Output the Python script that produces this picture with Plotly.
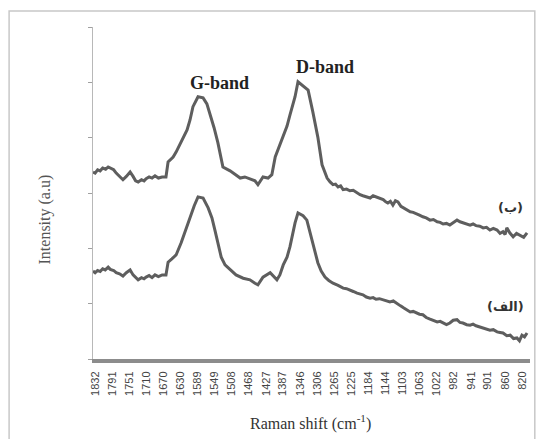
import plotly.graph_objects as go

# Raman shift (cm-1) and intensity (a.u.)
shift_b = [1837, 1832, 1826, 1820, 1814, 1807, 1801, 1794, 1788, 1782, 1774, 1766, 1758,
           1749, 1742, 1736, 1730, 1722, 1716, 1711, 1704, 1697, 1690, 1682, 1673, 1664,
           1659, 1647, 1640, 1626, 1614, 1607, 1600, 1588, 1576, 1567, 1560, 1550, 1541,
           1533, 1529, 1512, 1500, 1488, 1477, 1465, 1453, 1446, 1434, 1422, 1413, 1405,
           1396, 1386, 1377, 1370, 1358, 1351, 1339, 1327, 1316, 1304, 1294,
           1282, 1275, 1268, 1262, 1256, 1250, 1244, 1236, 1228, 1220, 1211, 1204, 1197,
           1189, 1180, 1173, 1166, 1158, 1149, 1143, 1138, 1132, 1126, 1120, 1114, 1107,
           1100, 1093, 1085, 1078, 1071, 1063, 1055, 1047, 1038, 1030, 1021, 1014, 1007,
           999, 991, 983, 974, 967, 960, 951, 943, 936, 929, 920, 912, 904, 896, 888, 879,
           872, 865, 860, 856, 849, 841, 833, 825, 816, 808]
inten_b = [3.38, 3.36, 3.42, 3.40, 3.45, 3.43, 3.47, 3.45, 3.42, 3.36, 3.30, 3.24, 3.30,
           3.38, 3.30, 3.22, 3.20, 3.24, 3.22, 3.26, 3.29, 3.27, 3.31, 3.27, 3.29, 3.29,
           3.56, 3.65, 3.74, 3.96, 4.14, 4.32, 4.56, 4.74, 4.72, 4.61, 4.45, 4.18, 3.91,
           3.65, 3.47, 3.40, 3.33, 3.27, 3.29, 3.25, 3.22, 3.15, 3.29, 3.27, 3.33, 3.65,
           3.83, 4.03, 4.21, 4.41, 4.74, 5.01, 4.94, 4.86, 4.47, 4.01, 3.51,
           3.27, 3.20, 3.15, 3.16, 3.11, 3.13, 3.06, 3.07, 3.04, 3.05, 3.00, 2.97, 2.95,
           2.93, 2.91, 2.95, 2.93, 2.90, 2.88, 2.84, 2.82, 2.85, 2.78, 2.86, 2.84, 2.76,
           2.73, 2.70, 2.66, 2.65, 2.62, 2.60, 2.57, 2.55, 2.51, 2.52, 2.48, 2.47, 2.44,
           2.45, 2.42, 2.47, 2.51, 2.48, 2.46, 2.43, 2.42, 2.44, 2.41, 2.40, 2.37, 2.38,
           2.33, 2.36, 2.33, 2.27, 2.30, 2.25, 2.37, 2.28, 2.21, 2.27, 2.24, 2.20, 2.28]

shift_a = [1837, 1832, 1826, 1820, 1814, 1808, 1801, 1796, 1788, 1782, 1774, 1766, 1758,
           1749, 1742, 1737, 1730, 1722, 1716, 1711, 1704, 1697, 1690, 1682, 1673, 1664,
           1659, 1650, 1640, 1628, 1616, 1607, 1597, 1588, 1576, 1564, 1555, 1548, 1541,
           1533, 1524, 1517, 1507, 1498, 1481, 1465, 1453, 1446, 1434, 1417, 1401, 1394,
           1386, 1377, 1370, 1363, 1358, 1351, 1339, 1330, 1318, 1311, 1304, 1296,
           1287, 1278, 1268, 1256, 1244, 1236, 1228, 1220, 1211, 1204, 1197, 1189, 1180,
           1173, 1166, 1158, 1149, 1141, 1133, 1125, 1116, 1108, 1100, 1092, 1085, 1078,
           1071, 1063, 1055, 1047, 1038, 1030, 1021, 1014, 1007, 999, 991, 983, 974, 967,
           960, 951, 943, 936, 929, 920, 912, 904, 896, 888, 879, 872, 865, 856, 848, 840,
           832, 826, 820, 814, 808]
inten_a = [1.59, 1.56, 1.60, 1.58, 1.63, 1.61, 1.66, 1.62, 1.60, 1.56, 1.54, 1.50, 1.56,
           1.61, 1.52, 1.48, 1.43, 1.47, 1.45, 1.48, 1.51, 1.47, 1.52, 1.49, 1.52, 1.52,
           1.75, 1.81, 1.88, 2.10, 2.37, 2.55, 2.77, 2.93, 2.91, 2.73, 2.55, 2.33, 2.10,
           1.84, 1.70, 1.65, 1.57, 1.52, 1.46, 1.43, 1.37, 1.34, 1.48, 1.56, 1.43, 1.52,
           1.70, 1.84, 2.03, 2.28, 2.46, 2.64, 2.59, 2.51, 2.15, 1.93, 1.74, 1.59,
           1.48, 1.42, 1.37, 1.33, 1.28, 1.27, 1.25, 1.22, 1.19, 1.18, 1.16, 1.12, 1.10,
           1.11, 1.08, 1.09, 1.07, 1.04, 1.03, 1.05, 1.01, 0.96, 0.92, 0.88, 0.85, 0.86,
           0.83, 0.81, 0.80, 0.75, 0.72, 0.70, 0.67, 0.68, 0.65, 0.62, 0.65, 0.70, 0.71,
           0.66, 0.65, 0.62, 0.61, 0.63, 0.60, 0.58, 0.56, 0.55, 0.52, 0.53, 0.49, 0.48,
           0.47, 0.42, 0.43, 0.37, 0.38, 0.33, 0.43, 0.40, 0.47]

tick_labels = ["1832", "1791", "1751", "1710", "1670", "1630", "1589", "1549", "1508",
               "1468", "1427", "1387", "1346", "1306", "1265", "1225", "1184", "1144",
               "1103", "1063", "1022", "982", "941", "901", "860", "820"]
tick_vals = [int(t) for t in tick_labels]
y_ticks = [0, 1, 2, 3, 4, 5, 6]

line_color = "#5e5e5e"
fig = go.Figure()
fig.add_trace(go.Scatter(x=shift_b, y=inten_b, mode="lines",
                         line=dict(color=line_color, width=3), showlegend=False))
fig.add_trace(go.Scatter(x=shift_a, y=inten_a, mode="lines",
                         line=dict(color=line_color, width=3), showlegend=False))

serif = "Liberation Serif"
LRM = "\u200e"
fig.update_layout(
    width=537, height=439,
    margin=dict(l=93, r=7, t=27, b=80),
    paper_bgcolor="white", plot_bgcolor="white",
    xaxis=dict(range=[1837, 801], tickvals=tick_vals, ticktext=tick_labels,
               tickangle=-90, ticks="", showgrid=False, zeroline=False,
               showline=True, linecolor="#8c8c8c", linewidth=4,
               tickfont=dict(family="Liberation Sans", size=11, color="#444444"),
               ticklabelstandoff=4),
    yaxis=dict(range=[0, 6], tickvals=y_ticks, showticklabels=False,
               ticks="outside", ticklen=4, tickcolor="#a0a0a0",
               showgrid=False, zeroline=False,
               showline=True, linecolor="#b8b8b8", linewidth=1),
    shapes=[dict(type="rect", xref="paper", yref="paper",
                 x0=-0.192, x1=1.011, y0=-0.25, y1=1.048,
                 line=dict(color="#c8c8c8", width=1.5))],
    annotations=[
        dict(text="G-band", x=1536, y=4.98, xref="x", yref="y", showarrow=False,
             font=dict(family=serif, size=18, color="#222222", weight="bold"),
             xanchor="center", yanchor="middle"),
        dict(text="D-band", x=1287, y=5.28, xref="x", yref="y", showarrow=False,
             font=dict(family=serif, size=18, color="#222222", weight="bold"),
             xanchor="center", yanchor="middle"),
        dict(text=LRM + "(ب)" + LRM, x=848, y=2.73, xref="x", yref="y", showarrow=False,
             font=dict(family="DejaVu Sans", size=13, color="#333333", weight="bold"),
             xanchor="center", yanchor="middle"),
        dict(text=LRM + "(الف)" + LRM, x=860, y=0.94, xref="x", yref="y", showarrow=False,
             font=dict(family="DejaVu Sans", size=13, color="#333333", weight="bold"),
             xanchor="center", yanchor="middle"),
        dict(text="Raman shift (cm<sup>-1</sup>)", x=0.497, y=-0.19, xref="paper",
             yref="paper", showarrow=False, xanchor="center", yanchor="middle",
             font=dict(family=serif, size=16, color="#333333")),
        dict(text="Intensity (a.u)", x=-0.11, y=0.42, xref="paper", yref="paper",
             showarrow=False, textangle=-90, xanchor="center", yanchor="middle",
             font=dict(family=serif, size=16, color="#555555")),
    ],
)
fig.write_html("out.html")
